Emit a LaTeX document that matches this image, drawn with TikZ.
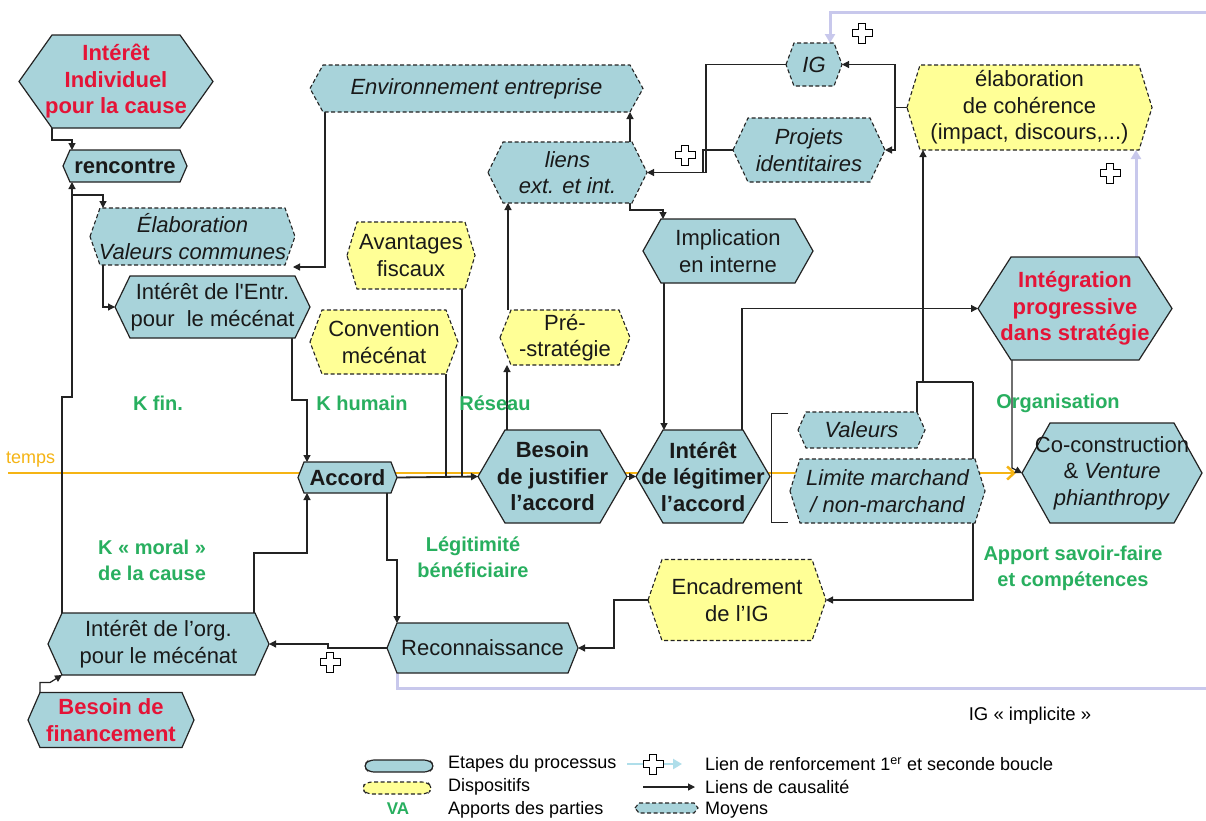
\documentclass[tikz,border=0pt]{standalone}
\usepackage{fontspec}
\setmainfont{Liberation Sans}
\usetikzlibrary{arrows.meta,calc,backgrounds}
\definecolor{procblue}{RGB}{168,211,218}
\definecolor{dispyellow}{RGB}{255,255,150}
\definecolor{vagreen}{RGB}{40,175,95}
\definecolor{titlered}{RGB}{228,20,55}
\definecolor{loopblue}{RGB}{200,200,236}
\definecolor{legcyan}{RGB}{175,222,234}
\definecolor{timeorange}{RGB}{245,180,20}
\definecolor{edgegrey}{RGB}{35,35,35}
\tikzset{
 proc/.style={fill=procblue,draw=edgegrey,line width=1.2pt,line join=miter},
 disp/.style={fill=dispyellow,draw=edgegrey,line width=1.1pt,dash pattern=on 4pt off 2.5pt},
 moyen/.style={fill=procblue,draw=edgegrey,line width=1.1pt,dash pattern=on 4pt off 2.5pt},
 hexlabel/.style={inner sep=0pt,outer sep=0pt,align=center,text=black!90,font=\fontsize{22}{26.5}\selectfont},
 plainlbl/.style={},
 boldlbl/.style={font=\fontsize{22}{26.5}\selectfont\bfseries},
 redlbl/.style={font=\fontsize{22}{26.5}\selectfont\bfseries,text=titlered},
 itlbl/.style={font=\fontsize{22}{26.5}\selectfont\itshape},
 causal/.style={draw=edgegrey,line width=1.2pt,-{Triangle[length=7pt,width=7pt]}},
 link/.style={draw=edgegrey,line width=1.2pt},
 loopline/.style={draw=loopblue,line width=3pt},
 looparrow/.style={loopline,-{Triangle[length=9pt,width=10pt]}},
 timeline/.style={draw=timeorange,line width=2.5pt,-{Straight Barb[length=7pt,width=13pt,line width=2.5pt]}},
 valbl/.style={text=vagreen,font=\fontsize{20}{26}\selectfont\bfseries,align=center,inner sep=0pt},
 legtext/.style={font=\fontsize{18}{21}\selectfont,anchor=west,inner sep=0pt},
 plusmark/.style={draw=black,fill=white,line width=1pt},
}
% #1 shape style, #2 label style, #3 name, #4 cx, #5 cy, #6 w, #7 h, #8 indent, #9 text
\newcommand\hexnode[9]{%
 \path[#1] ({#4-#6/2},#5) -- ({#4-#6/2+#8},{#5-#7/2}) -- ({#4+#6/2-#8},{#5-#7/2}) -- ({#4+#6/2},#5) -- ({#4+#6/2-#8},{#5+#7/2}) -- ({#4-#6/2+#8},{#5+#7/2}) -- cycle;
 \node[hexlabel,#2,minimum width=#6pt,minimum height=#7pt] (#3) at (#4,#5) {#9};}
\newcommand\plusat[1]{\draw[plusmark] (#1) ++(-3.5,-10) -- ++(7,0) -- ++(0,6.5) -- ++(6.5,0) -- ++(0,7) -- ++(-6.5,0) -- ++(0,6.5) -- ++(-7,0) -- ++(0,-6.5) -- ++(-6.5,0) -- ++(0,-7) -- ++(6.5,0) -- cycle;}
\begin{document}
\begin{tikzpicture}[x=1pt,y=-1pt]
\useasboundingbox (0,0) rectangle (1206,820);

% ---- nodes ----
\hexnode{proc}{redlbl}{A}{116}{81.5}{194}{93}{33}{Intérêt\\Individuel\\pour la cause}
\hexnode{proc}{boldlbl}{B}{125}{166}{124}{32}{7}{rencontre}
\hexnode{moyen}{itlbl}{C}{192.5}{236.5}{205}{57}{10}{Élaboration\\Valeurs communes}
\hexnode{proc}{plainlbl}{D}{212.5}{307}{195}{62}{15}{Intérêt de l\textquotesingle Entr.\\pour~ le mécénat}
\hexnode{moyen}{itlbl}{E}{476.5}{88.5}{333}{47}{13}{Environnement entreprise}
\hexnode{moyen}{itlbl}{F}{567.5}{172.5}{159}{61}{15}{liens\\ext. et int.}
\hexnode{moyen}{itlbl}{G}{814}{64.5}{56}{43}{8}{IG}
\hexnode{moyen}{itlbl}{H}{809}{150}{152}{64}{15}{Projets\\identitaires}
\hexnode{disp}{plainlbl}{I}{1029.5}{107.5}{245}{85}{13}{élaboration\\de cohérence\\(impact, discours,...)}
\hexnode{proc}{plainlbl}{J}{728}{251}{170}{64}{18}{Implication\\en interne}
\hexnode{disp}{plainlbl}{K}{411}{255.5}{128}{67}{10}{Avantages\\fiscaux}
\hexnode{disp}{plainlbl}{L}{384}{342}{148}{64}{12}{Convention\\mécénat}
\hexnode{disp}{plainlbl}{M}{565}{337.5}{130}{55}{11}{Pré-\\-stratégie}
\hexnode{proc}{redlbl}{N}{1075}{308.5}{194}{103}{33}{Intégration\\progressive\\dans stratégie}
\hexnode{proc}{boldlbl}{O}{347.5}{477.5}{99}{31}{6}{Accord}
\hexnode{proc}{boldlbl}{P}{552.5}{476.5}{149}{93}{27}{Besoin\\de justifier\\l’accord}
\hexnode{proc}{boldlbl}{Q}{703}{476.5}{134}{93}{27}{Intérêt\\de légitimer\\l’accord}
\hexnode{moyen}{itlbl}{R}{861.5}{430}{127}{36}{8}{Valeurs}
\hexnode{moyen}{itlbl}{S}{887.5}{491}{195}{64}{10}{Limite marchand\\/ non-marchand}
\hexnode{proc}{plainlbl}{T}{1112}{473}{180}{100}{28}{Co-construction\\\& \textit{Venture}\\\textit{phianthropy}}
\hexnode{disp}{plainlbl}{U}{737}{600}{178}{81}{14}{Encadrement\\de l’IG}
\hexnode{proc}{plainlbl}{V}{482.5}{648}{191}{50}{10}{Reconnaissance}
\hexnode{proc}{plainlbl}{W}{158.5}{644}{221}{62}{14}{Intérêt de l’org.\\pour le mécénat}
\hexnode{proc}{redlbl}{X}{111}{720}{166}{55}{12}{Besoin de\\financement}

% ---- labels ----
\node[text=timeorange,font=\fontsize{18}{20}\selectfont,anchor=west,inner sep=0pt] (temps) at (6,460) {temps};
\node[valbl] (kfin) at (158,403) {K fin.};
\node[valbl] (khum) at (362,403) {K humain};
\node[valbl] (reseau) at (495,403) {Réseau};
\node[valbl] (orga) at (1058,403) {Organisation};
\node[valbl] (kmoral) at (152,560) {K « moral »\\de la cause};
\node[valbl] (legit) at (473,557) {Légitimité\\bénéficiaire};
\node[valbl] (apport) at (1073,568) {Apport savoir-faire\\et compétences};
\node[font=\fontsize{18.5}{20}\selectfont,inner sep=0pt] (implicite) at (1030,716) {IG « implicite »};

\coordinate (tstart) at (8,473);
\coordinate (topright) at (1206,12);
\coordinate (botright) at (1206,688);

% ---- connectors (behind the shapes) ----
\begin{scope}[on background layer]
\fill[white] (0,0) rectangle (1206,820);
\draw[timeline] (tstart) -- ($(T.west)+(-6,0)$);
\draw[causal] ($(A.south west)+(33,0)$) -- ++(0,12) -| ($(B.north west)+(9,0)$);
\draw[causal] ($(W.north west)+(14,0)$) -- ++(0,-216) -| ($(B.south west)+(9,0)$);
\draw[causal] ($(B.south west)+(9,13)$) -| ($(C.north west)+(13,0)$);
\draw[causal] ($(E.south west)+(15,0)$) |- ($(C.south east)+(-2,2)$);
\draw[causal] ($(C.south west)+(13,0)$) |- (D.west);
\draw[causal] ($(D.south east)+(-18,0)$) -- ++(0,62) -| ($(O.north west)+(9,0)$);
\draw[causal] ($(W.north east)+(-15,0)$) -- ++(0,-60) -| ($(O.south west)+(9,0)$);
\draw[link] ($(K.south east)+(-13,0)$) |- (P.west);
\draw[link] ($(L.south east)+(-12,0)$) |- (P.west);
\draw[causal,line width=1.8pt] (O.east) -- (P.west);
\draw[causal] ($(O.south east)+(-10,0)$) -- ++(0,67) -| ($(V.north west)+(10,0)$);
\draw[causal] (V.west) -- ++(-59,0) -- ++(0,-4) -- (W.east);
\draw[causal] (U.west) -- ++(-34,0) |- (V.east);
\draw[causal] ($(S.north east)+(-12,-77)$) |- (U.east);
\draw[link] ($(R.north east)+(-8,0)$) -- ++(0,-30) -- ++(56,0);
\draw[causal] ($(I.south west)+(16,232)$) -- ($(I.south west)+(16,0)$);
\draw[causal] ($(P.north west)+(29,0)$) -- ($(M.south west)+(7,0)$);
\draw[causal] ($(M.north west)+(8,0)$) -- ($(F.south west)+(20,0)$);
\draw[causal] ($(F.north east)+(-17,0)$) -- ($(E.south east)+(-13,0)$);
\draw[causal] ($(F.south east)+(-17,0)$) -- ++(0,7) -| ($(J.north west)+(20,0)$);
\draw[causal] ($(J.south west)+(21,0)$) -- ($(Q.north west)+(28,0)$);
\draw[causal] (P.east) -- (Q.west);
\draw[causal] ($(Q.north east)+(-28,0)$) |- (N.west);
\draw[causal] ($(N.south west)+(34,0)$) -- ++(0,108) -- (T.west);
\draw[looparrow] ($(N.north east)+(-36,0)$) -- ($(I.south east)+(-16,0)$);
\draw[causal] (I.west) -- ++(-12,0) |- (G.east);
\draw[causal] ($(I.west)+(-12,0)$) |- (H.east);
\draw[causal] (G.west) -- ++(-80,0) |- (F.east);
\draw[link] (H.west) -- ++(-30,0) -- ++(0,22.5);
\draw[looparrow] (topright) -| ($(G.north)+(16,0)$);
\draw[loopline] ($(V.south west)+(10,0)$) |- (botright);
\draw[causal] ($(X.north west)+(12,0)$) -- ++(0,-10) -- ++(10,0) -- ($(W.south west)+(14,0)$);
\end{scope}

% bracket
\draw[edgegrey,line width=1pt] (788,413) -- (771,413) -- (771,522) -- (788,522);

% reinforcement marks
\plusat{862,33}
\plusat{685,155}
\plusat{1110,173}
\plusat{330,662}

% ---- legend ----
\draw[proc,rounded corners=5pt] (363,766) -- (369,760) -- (429,760) -- (435,766) -- (429,772) -- (369,772) -- cycle;
\draw[disp,rounded corners=5pt] (361,788) -- (367,782) -- (427,782) -- (433,788) -- (427,794) -- (367,794) -- cycle;
\node[valbl,font=\fontsize{17}{20}\selectfont\bfseries] (va) at (398,809) {VA};
\node[legtext] (l1) at (448,764) {Etapes du processus};
\node[legtext] (l2) at (448,787) {Dispositifs};
\node[legtext] (l3) at (448,810) {Apports des parties};
\coordinate (la1) at (627,764);
\coordinate (la2) at (682,764);
\draw[draw=legcyan,line width=2.5pt,-{Triangle[length=9pt,width=10pt]}] (la1) -- (la2);
\plusat{653,764}
\coordinate (lb1) at (643,787);
\coordinate (lb2) at (695,787);
\draw[causal] (lb1) -- (lb2);
\draw[moyen] (635,808) -- (639,803) -- (694,803) -- (698,808) -- (694,813) -- (639,813) -- cycle;
\node[legtext] (r1) at (705,764) {Lien de renforcement 1\textsuperscript{er} et seconde boucle};
\node[legtext] (r2) at (705,787) {Liens de causalité};
\node[legtext] (r3) at (705,810) {Moyens};
\end{tikzpicture}
\end{document}
